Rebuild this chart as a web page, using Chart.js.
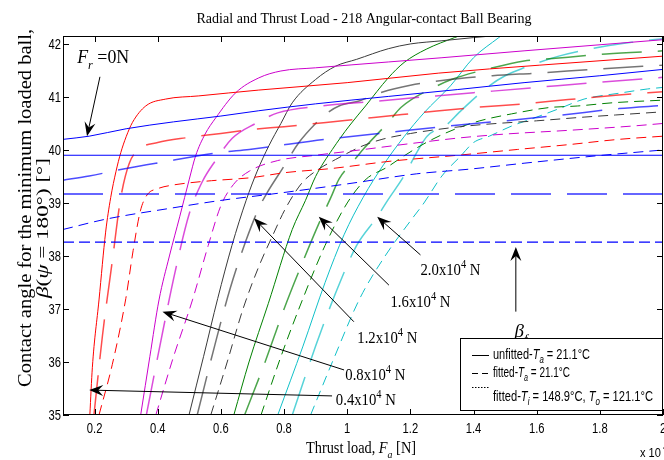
<!DOCTYPE html>
<html>
<head>
<meta charset="utf-8">
<script src="https://cdn.jsdelivr.net/npm/chart.js@4.4.1/dist/chart.umd.min.js"></script>
<style>
html, body { margin: 0; padding: 0; background: #fff; }
</style>
</head>
<body>
<canvas id="c" width="664" height="460"></canvas>
<script>
// axis ticks (thrust load in 1e4 N, contact angle in degrees)
const xTickValues = [0.2, 0.4, 0.6, 0.8, 1.0, 1.2, 1.4, 1.6, 1.8, 2.0];
const yTickValues = [35, 36, 37, 38, 39, 40, 41, 42];

// free contact angle beta_f for the three cases
const betaF = [39.9, 39.17, 38.26];

// Fr = 0 N (blue)
const fr0Unfitted = [[0.1,40.2],[0.183,40.26],[0.3,40.4],[0.45,40.53],[0.6,40.64],[0.72,40.74],[0.9,40.87],[1.13,41.01],[1.35,41.14],[1.56,41.27],[1.8,41.4],[2.0,41.52]];
const fr0Fitted = [[0.1,39.43],[0.183,39.51],[0.3,39.65],[0.404,39.76],[0.594,39.95],[0.69,40.01],[0.93,40.2],[1.13,40.33],[1.37,40.48],[1.5,40.55],[1.68,40.66],[1.86,40.78],[2.0,40.84]];
const fr0Hot = [[0.1,38.5],[0.24,38.7],[0.44,38.9],[0.59,39.04],[0.79,39.19],[1.0,39.36],[1.22,39.55],[1.39,39.64],[1.56,39.75],[1.79,39.89],[2.0,40.0]];

// Fr = 0.4x10^4 N (red)
const fr04Unfitted = [[0.185,35],[0.193,35.9],[0.214,37.17],[0.235,38.45],[0.251,39.1],[0.268,39.6],[0.283,39.95],[0.3,40.25],[0.32,40.52],[0.362,40.83],[0.425,40.96],[0.53,41.02],[0.72,41.13],[1.0,41.27],[1.29,41.45],[1.61,41.6],[2.0,41.77]];
const fr04Fitted = [[0.198,35],[0.225,36.5],[0.256,37.9],[0.283,39.1],[0.31,39.75],[0.345,40.03],[0.4,40.14],[0.49,40.23],[0.6,40.31],[0.69,40.38],[0.8,40.44],[0.9,40.5],[1.0,40.56],[1.13,40.64],[1.26,40.72],[1.4,40.8],[1.56,40.87],[1.7,40.95],[1.85,41.03],[2.0,41.1]];
const fr04Hot = [[0.214,35],[0.256,35.95],[0.299,37.2],[0.322,38.1],[0.345,38.85],[0.366,39.15],[0.4,39.27],[0.45,39.34],[0.5,39.38],[0.57,39.42],[0.7,39.48],[0.8,39.57],[0.95,39.65],[1.14,39.79],[1.35,39.9],[1.54,40.01],[1.7,40.1],[1.86,40.2],[2.0,40.26]];

// Fr = 0.8x10^4 N (magenta)
const fr08Unfitted = [[0.346,35],[0.375,36.1],[0.404,37.17],[0.437,38.0],[0.47,38.75],[0.5,39.45],[0.52,39.89],[0.55,40.3],[0.583,40.6],[0.647,41.08],[0.72,41.36],[0.79,41.49],[0.9,41.55],[1.13,41.66],[1.3,41.74],[1.56,41.87],[2.0,42.08]];
const fr08Fitted = [[0.364,35],[0.41,36.4],[0.455,37.7],[0.5,38.8],[0.541,39.4],[0.583,39.8],[0.636,40.22],[0.71,40.5],[0.78,40.7],[0.916,40.83],[1.09,40.92],[1.28,41.02],[1.46,41.11],[1.6,41.18],[1.8,41.28],[2.0,41.37]];
const fr08Hot = [[0.394,35],[0.45,36.1],[0.51,37.17],[0.56,38.2],[0.6,38.95],[0.64,39.35],[0.69,39.6],[0.78,39.8],[0.9,39.9],[1.04,40.0],[1.2,40.12],[1.36,40.23],[1.5,40.3],[1.7,40.37],[1.9,40.45],[2.0,40.5]];

// Fr = 1.2x10^4 N (black)
const fr12Unfitted = [[0.499,35],[0.545,36.1],[0.59,37.2],[0.635,38.2],[0.68,39.05],[0.715,39.6],[0.752,40.08],[0.79,40.5],[0.826,40.89],[0.9,41.33],[0.963,41.58],[1.03,41.71],[1.13,41.91],[1.2,42.0],[1.3,42.06],[1.4,42.12],[1.55,42.2]];
const fr12Fitted = [[0.525,35],[0.58,36.3],[0.63,37.4],[0.68,38.3],[0.72,38.9],[0.747,39.2],[0.794,39.64],[0.847,40.14],[0.9,40.5],[0.937,40.7],[0.974,40.83],[1.04,40.93],[1.1,41.07],[1.2,41.22],[1.3,41.31],[1.46,41.4],[1.6,41.45],[1.8,41.53],[2.0,41.6]];
const fr12Hot = [[0.568,35],[0.62,36.0],[0.67,37.0],[0.72,37.8],[0.765,38.4],[0.805,38.9],[0.857,39.38],[0.9,39.6],[0.963,39.82],[1.05,40.08],[1.11,40.2],[1.2,40.31],[1.33,40.42],[1.43,40.48],[1.6,40.55],[1.75,40.62],[1.85,40.66],[2.0,40.72]];

// Fr = 1.6x10^4 N (green)
const fr16Unfitted = [[0.641,35],[0.689,36.0],[0.75,37.1],[0.826,38.5],[0.868,39.05],[0.9,39.5],[0.953,40.01],[1.006,40.45],[1.058,40.83],[1.13,41.36],[1.18,41.65],[1.25,41.9],[1.34,42.12],[1.4,42.25]];
const fr16Fitted = [[0.675,35],[0.74,36.0],[0.8,37.0],[0.86,37.9],[0.916,38.69],[0.948,39.1],[0.974,39.45],[1.016,39.76],[1.05,40.01],[1.13,40.52],[1.17,40.8],[1.285,41.21],[1.33,41.33],[1.46,41.55],[1.56,41.68],[1.64,41.72],[1.82,41.81],[2.0,41.87]];
const fr16Hot = [[0.727,35],[0.79,36.1],[0.86,37.2],[0.93,38.2],[1.0,39.0],[1.06,39.45],[1.125,39.67],[1.17,39.85],[1.25,40.14],[1.34,40.39],[1.42,40.55],[1.52,40.68],[1.64,40.8],[1.73,40.83],[1.84,40.89],[2.0,40.94]];

// Fr = 2.0x10^4 N (cyan)
const fr20Unfitted = [[0.78,35],[0.86,36.3],[0.93,37.5],[0.99,38.4],[1.05,39.1],[1.116,39.73],[1.18,40.25],[1.243,40.7],[1.327,41.21],[1.4,41.74],[1.48,42.12],[1.52,42.3]];
const fr20Fitted = [[0.826,35],[0.9,36.3],[0.97,37.4],[1.03,38.2],[1.095,38.74],[1.127,39.04],[1.18,39.51],[1.22,39.95],[1.253,40.26],[1.316,40.48],[1.353,40.7],[1.45,41.21],[1.5,41.4],[1.56,41.55],[1.67,41.77],[1.82,41.96],[1.9,42.03],[2.0,42.1]];
const fr20Hot = [[0.884,35],[0.96,36.1],[1.04,37.2],[1.12,38.0],[1.2,38.66],[1.243,39.0],[1.3,39.51],[1.36,39.89],[1.4,40.14],[1.45,40.26],[1.52,40.45],[1.6,40.62],[1.68,40.8],[1.75,40.96],[1.86,41.07],[1.95,41.15],[2.0,41.18]];

const loadNames = ['0.4', '0.8', '1.2', '1.6', '2.0'];

// colours and line styles
const colBlue = '#0000ff', colRed = '#ff0000', colMag = '#cc00cc', colBlack = '#3a3a3a', colGreen = '#008000', colCyan = '#10c0c8';
const dashSolid = [], dashLong = [40, 16], dashDot = [10, 6];

function mk(pts, color, dash, w, alpha) {
    return {
        data: pts.map(p => ({ x: p[0], y: p[1] })),
        borderColor: color,
        borderDash: dash,
        borderWidth: w || 1,
        pointRadius: 0,
        fill: false,
        cubicInterpolationMode: 'monotone',
        segment: alpha ? { borderColor: () => Chart.helpers.color(color).alpha(alpha).rgbString() } : undefined
    };
}

// long dashes print lighter and slightly wider in the original figure
const longW = 1.5, longA = 0.7;

const datasets = [
    mk([[0.1, betaF[0]], [2.0, betaF[0]]], colBlue, dashSolid, 1.2),
    mk([[0.1, betaF[1]], [2.0, betaF[1]]], colBlue, dashLong, 2, 0.6),
    mk([[0.1, betaF[2]], [2.0, betaF[2]]], colBlue, [11, 5], 1.2),
    mk(fr0Unfitted, colBlue, dashSolid), mk(fr0Fitted, colBlue, dashLong, longW, longA), mk(fr0Hot, colBlue, dashDot),
    mk(fr04Unfitted, colRed, dashSolid), mk(fr04Fitted, colRed, dashLong, longW, longA), mk(fr04Hot, colRed, dashDot),
    mk(fr08Unfitted, colMag, dashSolid), mk(fr08Fitted, colMag, dashLong, longW, longA), mk(fr08Hot, colMag, dashDot),
    mk(fr12Unfitted, colBlack, dashSolid), mk(fr12Fitted, colBlack, dashLong, longW, longA), mk(fr12Hot, colBlack, dashDot),
    mk(fr16Unfitted, colGreen, dashSolid), mk(fr16Fitted, colGreen, dashLong, longW, longA), mk(fr16Hot, colGreen, dashDot),
    mk(fr20Unfitted, colCyan, dashSolid), mk(fr20Fitted, colCyan, dashLong, longW, longA), mk(fr20Hot, colCyan, dashDot)
];

// text helpers (mixed roman / italic / sub / superscript)
const T = t => ({ t }), I = t => ({ t, i: true }), Sub = (t, i) => ({ t, sub: true, i }), Sup = t => ({ t, sup: true });

function rich(ctx, parts, x, y, o) {
    const size = o.size, fam = o.family;
    const fontOf = p => (p.i ? 'italic ' : '') + ((p.sub || p.sup) ? Math.round(size * 0.68) : size) + 'px ' + fam;
    let total = 0;
    const ws = parts.map(p => { ctx.font = fontOf(p); const w = ctx.measureText(p.t).width; total += w; return w; });
    const sq = o.width ? o.width / total : (o.squeeze || 1);
    ctx.save();
    ctx.translate(x, y);
    if (o.rotate) ctx.rotate(o.rotate);
    ctx.scale(sq, 1);
    let cx = o.align === 'center' ? -total / 2 : (o.align === 'right' ? -total : 0);
    ctx.textAlign = 'left';
    ctx.textBaseline = 'alphabetic';
    ctx.fillStyle = '#000';
    parts.forEach((p, k) => {
        ctx.font = fontOf(p);
        const dy = p.sub ? size * 0.3 : (p.sup ? -size * 0.42 : 0);
        ctx.fillText(p.t, cx, dy);
        cx += ws[k];
    });
    ctx.restore();
}

function arrow(ctx, x1, y1, x2, y2) {
    const a = Math.atan2(y2 - y1, x2 - x1);
    ctx.save();
    ctx.strokeStyle = '#000';
    ctx.fillStyle = '#000';
    ctx.lineWidth = 1;
    ctx.beginPath();
    ctx.moveTo(x1, y1);
    ctx.lineTo(x2 - 8 * Math.cos(a), y2 - 8 * Math.sin(a));
    ctx.stroke();
    ctx.translate(x2, y2);
    ctx.rotate(a);
    ctx.beginPath();
    ctx.moveTo(0, 0);
    ctx.lineTo(-14, -5.5);
    ctx.lineTo(-9, 0);
    ctx.lineTo(-14, 5.5);
    ctx.closePath();
    ctx.fill();
    ctx.restore();
}

// annotation anchors, in data units
const notes = {
    fr0Text: [0.145, 41.64], fr0From: [0.217, 41.38], fr0To: [0.176, 40.26],
    loadText: [[0.964, 35.19], [0.994, 35.66], [1.032, 36.35], [1.137, 37.04], [1.232, 37.64]],
    loadFrom: [[0.952, 35.36], [0.99, 35.85], [1.021, 36.76], [1.132, 37.45], [1.232, 38.02]],
    loadTo: [[0.183, 35.47], [0.415, 36.95], [0.705, 38.71], [0.91, 38.74], [1.095, 38.74]],
    betaText: [1.53, 36.47], betaFrom: [1.534, 36.95], betaTo: [1.534, 38.17]
};

const decor = {
    id: 'decor',
    afterDatasetsDraw(chart) {
        const { ctx, chartArea: ca, scales: { x, y } } = chart;
        const px = p => [x.getPixelForValue(p[0]), y.getPixelForValue(p[1])];

        // box and inward ticks
        ctx.save();
        ctx.strokeStyle = '#000';
        ctx.lineWidth = 1;
        ctx.strokeRect(ca.left + 0.5, ca.top + 0.5, ca.right - ca.left - 1, ca.bottom - ca.top - 1);
        ctx.beginPath();
        xTickValues.forEach(v => {
            const xx = Math.round(x.getPixelForValue(v)) + 0.5;
            ctx.moveTo(xx, ca.bottom); ctx.lineTo(xx, ca.bottom - 6);
            ctx.moveTo(xx, ca.top); ctx.lineTo(xx, ca.top + 6);
        });
        yTickValues.forEach(v => {
            const yy = Math.round(y.getPixelForValue(v)) + 0.5;
            ctx.moveTo(ca.left, yy); ctx.lineTo(ca.left + 6, yy);
            ctx.moveTo(ca.right, yy); ctx.lineTo(ca.right - 6, yy);
        });
        ctx.stroke();
        ctx.restore();

        // tick labels
        xTickValues.forEach(v => {
            rich(ctx, [T(String(+v.toFixed(1)))], x.getPixelForValue(v), ca.bottom + 18, { size: 14, family: 'Liberation Sans', align: 'center', squeeze: 0.8 });
        });
        yTickValues.forEach(v => {
            rich(ctx, [T(String(v))], ca.left - 2, y.getPixelForValue(v) + 5, { size: 14, family: 'Liberation Sans', align: 'right', squeeze: 0.8 });
        });
        rich(ctx, [T('x 10')], ca.right - 23, ca.bottom + 42, { size: 13, family: 'Liberation Sans', squeeze: 0.85 });
        rich(ctx, [Sup('4')], ca.right, ca.bottom + 40, { size: 13, family: 'Liberation Sans', squeeze: 0.85 });

        // title and axis titles
        rich(ctx, [T('Radial and Thrust Load - 218 Angular-contact Ball Bearing')], (ca.left + ca.right) / 2 + 1, 23, { size: 15, family: 'Liberation Serif', align: 'center', width: 335 });
        rich(ctx, [T('Thrust load, '), I('F'), Sub('a', true), T(' [N]')], (ca.left + ca.right) / 2 - 2, 453, { size: 16, family: 'Liberation Serif', align: 'center', width: 110 });
        rich(ctx, [T('Contact angle for the minimum loaded ball,')], 31, 208, { size: 19, family: 'Liberation Serif', align: 'center', rotate: -Math.PI / 2, width: 358 });
        rich(ctx, [I('β'), T('('), I('ψ'), T(' = 180°) [°]')], 48, 228, { size: 17, family: 'Liberation Serif', align: 'center', rotate: -Math.PI / 2, width: 140 });

        // annotations
        let p = px(notes.fr0Text);
        rich(ctx, [I('F'), Sub('r', true), T(' =0N')], p[0], p[1], { size: 19, family: 'Liberation Serif', width: 52 });
        arrow(ctx, ...px(notes.fr0From), ...px(notes.fr0To));
        loadNames.forEach((n, k) => {
            const q = px(notes.loadText[k]);
            rich(ctx, [T(n + 'x10'), Sup('4'), T(' N')], q[0], q[1], { size: 17, family: 'Liberation Serif', width: 60 });
            arrow(ctx, ...px(notes.loadFrom[k]), ...px(notes.loadTo[k]));
        });
        p = px(notes.betaText);
        rich(ctx, [I('β'), Sub('f', true)], p[0], p[1], { size: 19, family: 'Liberation Serif' });
        arrow(ctx, ...px(notes.betaFrom), ...px(notes.betaTo));

        // legend box
        const L = ca.right - 203, Tp = ca.bottom - 77, R = ca.right, B = ca.bottom - 4;
        ctx.save();
        ctx.fillStyle = '#fff';
        ctx.fillRect(L, Tp, R - L, B - Tp);
        ctx.strokeStyle = '#000';
        ctx.lineWidth = 1;
        ctx.strokeRect(L + 0.5, Tp + 0.5, R - L - 1, B - Tp - 1);
        const rows = [
            { dy: 17, dash: [], ty: 21, parts: [T('unfitted-'), I('T'), Sub('a', true), T(' = 21.1°C')], w: 97 },
            { dy: 35, dash: [6, 4], ty: 39, parts: [T('fitted-'), I('T'), Sub('a', true), T(' = 21.1°C')], w: 77 },
            { dy: 49, dash: [1.5, 1.5], ty: 63, parts: [T('fitted-'), I('T'), Sub('i', true), T(' = 148.9°C, '), I('T'), Sub('o', true), T(' = 121.1°C')], w: 160 }
        ];
        rows.forEach(r => {
            ctx.beginPath();
            ctx.setLineDash(r.dash);
            ctx.strokeStyle = '#000';
            ctx.moveTo(L + 12, Tp + r.dy + 0.5);
            ctx.lineTo(L + 29, Tp + r.dy + 0.5);
            ctx.stroke();
            ctx.setLineDash([]);
            rich(ctx, r.parts, L + 33, Tp + r.ty, { size: 14, family: 'Liberation Sans', width: r.w });
        });
        ctx.restore();
    }
};

new Chart(document.getElementById('c'), {
    type: 'line',
    data: { datasets },
    options: {
        responsive: false,
        animation: false,
        devicePixelRatio: 1,
        layout: { padding: { top: 36, right: 1, left: 0, bottom: 0 } },
        plugins: { legend: { display: false }, title: { display: false }, tooltip: { enabled: false } },
        scales: {
            x: {
                type: 'linear', min: 0.1, max: 2.0,
                grid: { display: false }, border: { display: false },
                ticks: { display: false },
                afterBuildTicks: s => { s.ticks = xTickValues.map(v => ({ value: v })); },
                afterFit: s => { s.height = 45; }
            },
            y: {
                type: 'linear', min: 35, max: 42.15,
                grid: { display: false }, border: { display: false },
                ticks: { display: false },
                afterBuildTicks: s => { s.ticks = yTickValues.map(v => ({ value: v })); },
                afterFit: s => { s.width = 63; }
            }
        }
    },
    plugins: [decor]
});
</script>
</body>
</html>
